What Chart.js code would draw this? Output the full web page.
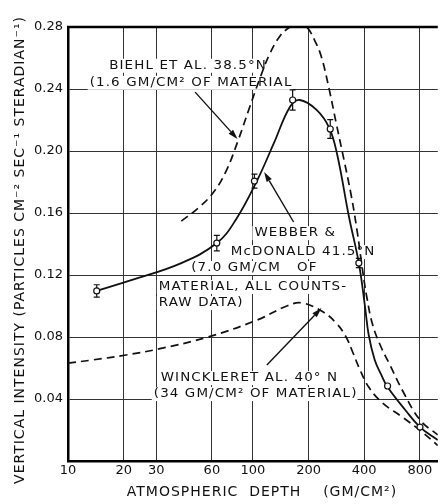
<!DOCTYPE html>
<html><head><meta charset="utf-8">
<script src="https://cdn.jsdelivr.net/npm/chart.js@4/dist/chart.umd.min.js"></script>
<style>html,body{margin:0;padding:0;background:#fff}canvas{display:block}</style>
</head><body>
<canvas id="c" width="443" height="504"></canvas>
<script>
// ---- data ----
const xTicks = [10, 20, 30, 60, 100, 200, 400, 800];
const yTicks = [0, 0.04, 0.08, 0.12, 0.16, 0.20, 0.24, 0.28];

// Webber & McDonald measured points with error bars
const webberPtX = [14.3, 63.8, 101.9, 164, 262, 374, 535, 801];
const webberPtY = [0.1097, 0.1406, 0.1806, 0.2329, 0.2142, 0.1277, 0.0484, 0.0219];
const webberErr = [0.004, 0.005, 0.0045, 0.0065, 0.006, 0.003, 0, 0];

// Webber & McDonald smooth curve
const webberX = [14.3, 22.2, 41, 63.8, 80.7, 105.7, 130, 158.5, 179, 221, 259, 286, 331, 374, 403, 423, 456, 495, 535, 667, 801, 1000];
const webberY = [0.1097, 0.1168, 0.1277, 0.1406, 0.1555, 0.1813, 0.2052, 0.2284, 0.2329, 0.2265, 0.2148, 0.1974, 0.1574, 0.1277, 0.1006, 0.0813, 0.0652, 0.0555, 0.0477, 0.0329, 0.0219, 0.0135];

// Biehl et al. curve
const biehlX = [41, 50.6, 60.8, 71.3, 82.6, 95.7, 108.3, 122.5, 140.2, 158.5, 174.9, 195.4, 215.4, 234.8, 259, 282, 311, 339.8, 365.6, 388.3, 413, 444.6, 490.6, 554.6, 650.5, 801, 1000];
const biehlY = [0.1548, 0.1632, 0.1729, 0.1865, 0.2058, 0.2277, 0.2458, 0.2619, 0.2742, 0.28, 0.2826, 0.28, 0.2716, 0.2606, 0.2394, 0.2181, 0.1942, 0.1716, 0.149, 0.1265, 0.1058, 0.0877, 0.0742, 0.0613, 0.0445, 0.0265, 0.0168];

// Winckler et al. curve
const wincklerX = [10, 13.6, 20.6, 31, 57.2, 105.6, 152.6, 184, 240, 282, 319, 348, 374, 423, 503, 642, 822, 1000];
const wincklerY = [0.0632, 0.0652, 0.0684, 0.0723, 0.080, 0.091, 0.100, 0.102, 0.0961, 0.089, 0.080, 0.0697, 0.0606, 0.0477, 0.0374, 0.0284, 0.0187, 0.010];

// annotation text lines: text, x value at left edge, y value at centre
const labelTexts = [
  "BIEHL ET AL. 38.5°N", "(1.6 GM/CM² OF MATERIAL",
  "WEBBER &", "McDONALD 41.5°N", "(7.0 GM/CM   OF", "MATERIAL, ALL COUNTS-", "RAW DATA)",
  "WINCKLERET AL. 40° N", "(34 GM/CM² OF MATERIAL)"
];
const labelX = [16.7, 13.1, 101.9, 75.9, 46.4, 31.0, 31.0, 31.7, 29.1];
const labelY = [0.255, 0.244, 0.147, 0.1348, 0.1245, 0.1123, 0.1019, 0.0535, 0.0432];

// arrows: from (x1,y1) to (x2,y2) in data values
const arrowX1 = [48.7, 166, 119];
const arrowY1 = [0.238, 0.1542, 0.0619];
const arrowX2 = [82.6, 115, 235];
const arrowY2 = [0.2077, 0.1865, 0.0987];

const FONT = "'DejaVu Sans', sans-serif";
const TEXT_STRETCH = 1.12;

const pts = (xs, ys) => xs.map((x, i) => ({x, y: ys[i]}));

const decor = {
  id: 'decor',
  beforeDatasetsDraw(chart) {
    const {ctx, scales: {x, y}} = chart;
    ctx.save();
    ctx.font = `12px ${FONT}`;
    ctx.letterSpacing = '1px';
    ctx.textBaseline = 'middle';
    ctx.textAlign = 'left';
    labelTexts.forEach((t, i) => {
      const px = x.getPixelForValue(labelX[i]);
      const py = y.getPixelForValue(labelY[i]);
      const w = ctx.measureText(t).width * TEXT_STRETCH;
      ctx.fillStyle = '#fff';
      ctx.fillRect(px - 2, py - 7, w + 2, 14);
      ctx.save();
      ctx.translate(px, py);
      ctx.scale(TEXT_STRETCH, 1);
      ctx.fillStyle = '#111';
      ctx.fillText(t, 0, 0);
      ctx.restore();
    });
    // error bars
    ctx.strokeStyle = '#111';
    ctx.lineWidth = 1.2;
    webberPtX.forEach((xv, i) => {
      const e = webberErr[i];
      if (!e) return;
      const px = x.getPixelForValue(xv);
      const pt = y.getPixelForValue(webberPtY[i] + e);
      const pb = y.getPixelForValue(webberPtY[i] - e);
      ctx.beginPath();
      ctx.moveTo(px, pt); ctx.lineTo(px, pb);
      ctx.moveTo(px - 3, pt); ctx.lineTo(px + 3, pt);
      ctx.moveTo(px - 3, pb); ctx.lineTo(px + 3, pb);
      ctx.stroke();
    });
    ctx.restore();
  },
  afterDatasetsDraw(chart) {
    const {ctx, scales: {x, y}} = chart;
    ctx.save();
    ctx.strokeStyle = '#111';
    ctx.fillStyle = '#111';
    ctx.lineWidth = 1.4;
    arrowX1.forEach((_, i) => {
      const x1 = x.getPixelForValue(arrowX1[i]), y1 = y.getPixelForValue(arrowY1[i]);
      const x2 = x.getPixelForValue(arrowX2[i]), y2 = y.getPixelForValue(arrowY2[i]);
      const a = Math.atan2(y2 - y1, x2 - x1);
      const L = 10, W = 3;
      const bx = x2 - L * Math.cos(a), by = y2 - L * Math.sin(a);
      ctx.beginPath();
      ctx.moveTo(x1, y1); ctx.lineTo(bx, by); ctx.stroke();
      ctx.beginPath();
      ctx.moveTo(x2, y2);
      ctx.lineTo(bx + W * Math.sin(a), by - W * Math.cos(a));
      ctx.lineTo(bx - W * Math.sin(a), by + W * Math.cos(a));
      ctx.closePath(); ctx.fill();
    });
    const ca = chart.chartArea;
    ctx.lineWidth = 2.5;
    ctx.strokeStyle = '#000';
    ctx.beginPath();
    ctx.moveTo(ca.left - 1, ca.top); ctx.lineTo(ca.right, ca.top); ctx.stroke();
    ctx.restore();
  },
  afterDraw(chart) {
    const {ctx} = chart;
    ctx.save();
    ctx.fillStyle = '#111';
    ctx.font = `14px ${FONT}`;
    ctx.letterSpacing = '1px';
    ctx.textAlign = 'center';
    ctx.textBaseline = 'middle';
    ctx.fillText('ATMOSPHERIC  DEPTH    (GM/CM²)', 262, 492);
    ctx.translate(20, 250);
    ctx.rotate(-Math.PI / 2);
    ctx.fillText('VERTICAL INTENSITY (PARTICLES CM⁻² SEC⁻¹ STERADIAN⁻¹)', 0, 0);
    ctx.restore();
  }
};

const lineDs = (data, dash, width) => ({
  type: 'line', data, borderColor: '#111', borderWidth: width, borderDash: dash,
  pointRadius: 0, fill: false, cubicInterpolationMode: 'default', tension: 0.4
});

new Chart(document.getElementById('c'), {
  type: 'line',
  data: {
    datasets: [
      { type: 'scatter', data: pts(webberPtX, webberPtY), pointStyle: 'circle', pointRadius: 3,
        pointBackgroundColor: '#fff', pointBorderColor: '#111', pointBorderWidth: 1.2, showLine: false },
      lineDs(pts(webberX, webberY), [], 1.8),
      lineDs(pts(biehlX, biehlY), [8, 5], 1.7),
      lineDs(pts(wincklerX, wincklerY), [8, 5], 1.7)
    ]
  },
  options: {
    responsive: false, animation: false, devicePixelRatio: 1,
    layout: { padding: { top: 27, left: 0, right: 0, bottom: 0 } },
    plugins: { legend: { display: false }, tooltip: { enabled: false } },
    scales: {
      x: {
        type: 'logarithmic', min: 10, max: 1000,
        afterBuildTicks: s => { s.ticks = xTicks.map(v => ({value: v})); },
        afterFit: s => { s.height = 43; },
        ticks: { autoSkip: false, maxRotation: 0, padding: 2, color: '#111',
          font: { family: FONT, size: 13 }, callback: v => String(v) },
        grid: { color: '#333', lineWidth: c => (c.tick && c.tick.value === 10 ? 0 : 1), drawTicks: false },
        border: { display: true, color: '#000', width: 2.5 }
      },
      y: {
        type: 'linear', min: 0, max: 0.28,
        afterBuildTicks: s => { s.ticks = yTicks.map(v => ({value: v})); },
        afterFit: s => { s.width = 68; },
        ticks: { autoSkip: false, padding: 5, color: '#111',
          font: { family: FONT, size: 13 },
          callback: v => (v === 0 ? '' : v.toFixed(2)) },
        grid: { color: '#333', lineWidth: c => (c.tick && (c.tick.value === 0 || c.tick.value === 0.28) ? 0 : 1), drawTicks: false },
        border: { display: true, color: '#000', width: 2.5 }
      }
    }
  },
  plugins: [decor]
});
</script>
</body></html>
